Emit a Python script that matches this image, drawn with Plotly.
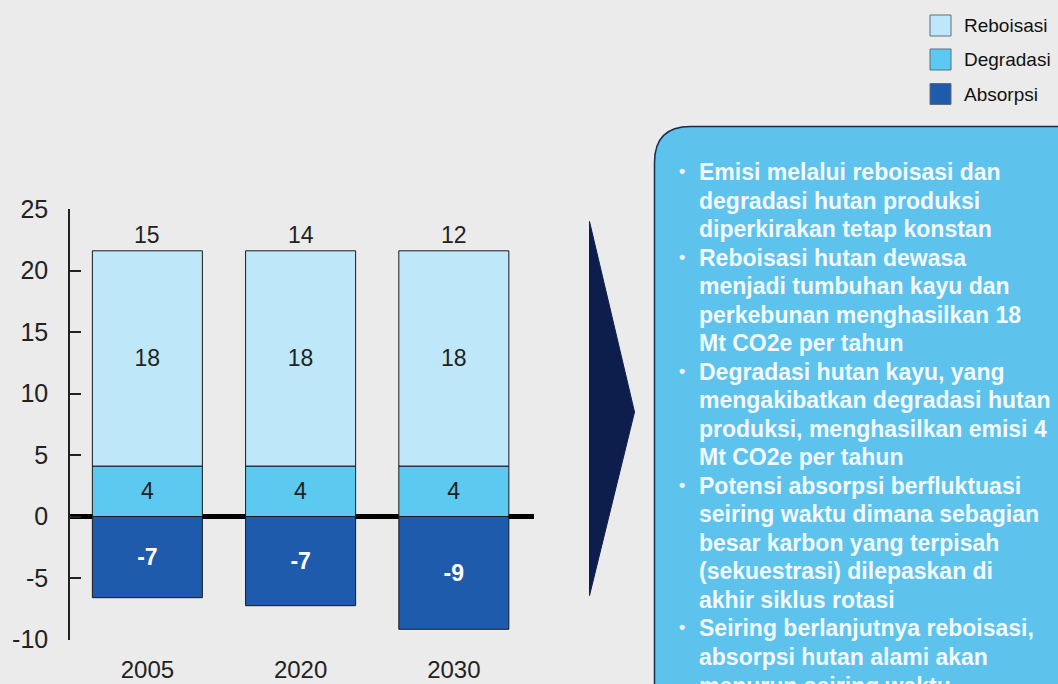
import plotly.graph_objects as go

# ---------------- data ----------------
years = ["2005", "2020", "2030"]
reboisasi = [17.5, 17.5, 17.5]
degradasi = [4.1, 4.1, 4.1]
absorpsi = [-6.6, -7.25, -9.17]
series_names = ["Reboisasi", "Degradasi", "Absorpsi"]
series_colors = ["#BEE8FA", "#5CC9F1", "#1F5BAD"]
y_ticks = [-10, -5, 0, 5, 10, 15, 20, 25]
y_tick_labels = ["-10", "-5", "0", "5", "10", "15", "20", "25"]

bullet_lines = [
    (True, "Emisi melalui reboisasi dan"),
    (False, "degradasi hutan produksi"),
    (False, "diperkirakan tetap konstan"),
    (True, "Reboisasi hutan dewasa"),
    (False, "menjadi tumbuhan kayu dan"),
    (False, "perkebunan menghasilkan 18"),
    (False, "Mt CO2e per tahun"),
    (True, "Degradasi hutan kayu, yang"),
    (False, "mengakibatkan degradasi hutan"),
    (False, "produksi, menghasilkan emisi 4"),
    (False, "Mt CO2e per tahun"),
    (True, "Potensi absorpsi berfluktuasi"),
    (False, "seiring waktu dimana sebagian"),
    (False, "besar karbon yang terpisah"),
    (False, "(sekuestrasi) dilepaskan di"),
    (False, "akhir siklus rotasi"),
    (True, "Seiring berlanjutnya reboisasi,"),
    (False, "absorpsi hutan alami akan"),
    (False, "menurun seiring waktu"),
]

W, H = 1058, 684
FONT = "Liberation Sans, Arial, sans-serif"
TXT = "#222222"


def px(x):
    return x / W


def py(y):
    return 1 - y / H


pos_top = [r + d for r, d in zip(reboisasi, degradasi)]
net = [r + d + a for r, d, a in zip(reboisasi, degradasi, absorpsi)]

fig = go.Figure()
fig.add_trace(go.Bar(
    x=years, y=degradasi, name=series_names[1],
    marker=dict(color=series_colors[1], line=dict(color="#1a1a1a", width=1)),
    texttemplate="%{y:.0f}", textposition="inside", insidetextanchor="middle",
    textangle=0, textfont=dict(size=23, color=TXT, family=FONT), showlegend=False,
))
fig.add_trace(go.Bar(
    x=years, y=reboisasi, name=series_names[0],
    marker=dict(color=series_colors[0], line=dict(color="#1a1a1a", width=1)),
    texttemplate="%{y:.0f}", textposition="inside", insidetextanchor="middle",
    textangle=0, textfont=dict(size=23, color=TXT, family=FONT), showlegend=False,
))
fig.add_trace(go.Bar(
    x=years, y=absorpsi, name=series_names[2],
    marker=dict(color=series_colors[2], line=dict(color="#1a1a1a", width=1)),
    texttemplate="<b>%{y:.0f}</b>", textposition="inside", insidetextanchor="middle",
    textangle=0, textfont=dict(size=23, color="white", family=FONT), showlegend=False,
))

shapes = []
annotations = []

# net totals above the bars (x given as category index)
for idx, (top, tot) in enumerate(zip(pos_top, net)):
    annotations.append(dict(xref="x", yref="y", x=idx, y=top, yshift=16,
                            xanchor="center", yanchor="middle", showarrow=False,
                            text=f"{tot:.0f}", font=dict(size=23, color=TXT, family=FONT)))

# legend (manual)
leg_y = [25.5, 59.5, 94.0]
for name, col, yy in zip(series_names, series_colors, leg_y):
    shapes.append(dict(type="rect", xref="paper", yref="paper",
                       x0=px(930), x1=px(951), y0=py(yy - 10.5), y1=py(yy + 10.5),
                       fillcolor=col, line=dict(color="#5f6f7c", width=1)))
    annotations.append(dict(xref="paper", yref="paper", x=px(962), y=py(yy),
                            xanchor="left", yanchor="middle", showarrow=False,
                            text=name, font=dict(size=19, color="#111111", family=FONT)))

# arrow chevron
ax = [(589.5, 221.5), (634.5, 412.0), (589.5, 595.5)]
path = "M {} {} L {} {} L {} {} Z".format(
    px(ax[0][0]), py(ax[0][1]), px(ax[1][0]), py(ax[1][1]), px(ax[2][0]), py(ax[2][1]))
shapes.append(dict(type="path", xref="paper", yref="paper", path=path,
                   fillcolor="#0E1E4C", line=dict(color="#0E1E4C", width=1)))

# text box with rounded top-left corner
bx0, by0, r = 654.5, 126.5, 36
box = "M {} {} L {} {} Q {} {} {} {} L {} {} L {} {} Z".format(
    px(bx0), py(720), px(bx0), py(by0 + r), px(bx0), py(by0), px(bx0 + r), py(by0),
    px(1080), py(by0), px(1080), py(720))
shapes.append(dict(type="path", xref="paper", yref="paper", path=box,
                   fillcolor="#5DC3ED", line=dict(color="#1B2B4E", width=1.5)))

for i, (is_bullet, line) in enumerate(bullet_lines):
    yy = 172 + i * 28.53
    if is_bullet:
        annotations.append(dict(xref="paper", yref="paper", x=px(682), y=py(yy - 1),
                                xanchor="center", yanchor="middle", showarrow=False,
                                text="<b>•</b>", font=dict(size=18, color="#E8F4FC", family=FONT)))
    annotations.append(dict(xref="paper", yref="paper", x=px(696.5), y=py(yy),
                            xanchor="left", yanchor="middle", showarrow=False,
                            text=f"<b>{line}</b>",
                            font=dict(size=23, color="#F2F9FF", family=FONT)))

fig.update_layout(
    width=W, height=H, autosize=False,
    margin=dict(l=0, r=0, t=0, b=0, pad=0),
    paper_bgcolor="#EBEBEB", plot_bgcolor="rgba(0,0,0,0)",
    barmode="relative", bargap=0.282,
    font=dict(family=FONT, color=TXT),
    shapes=shapes, annotations=annotations,
    xaxis=dict(type="category", domain=[px(70), px(533.5)], range=[-0.505, 2.52],
               automargin=False,
               showline=False, ticks="", showgrid=False, zeroline=False,
               tickfont=dict(size=24, color=TXT, family=FONT), ticklabelstandoff=13),
    yaxis=dict(domain=[py(639.5), py(209)], range=[-10, 25],
               automargin=False,
               tickvals=y_ticks, ticktext=y_tick_labels,
               showline=True, linecolor="#222222", linewidth=1.5,
               ticks="inside", ticklen=11, tickwidth=1.5, tickcolor="#222222",
               showgrid=False, zeroline=True, zerolinecolor="#000000", zerolinewidth=5,
               layer="above traces", tickfont=dict(size=25, color=TXT, family=FONT),
               ticklabelstandoff=15),
)

fig.write_html("out.html", config={"displayModeBar": False},
               post_script="document.body.style.margin='0';document.body.style.background='#EBEBEB';")
